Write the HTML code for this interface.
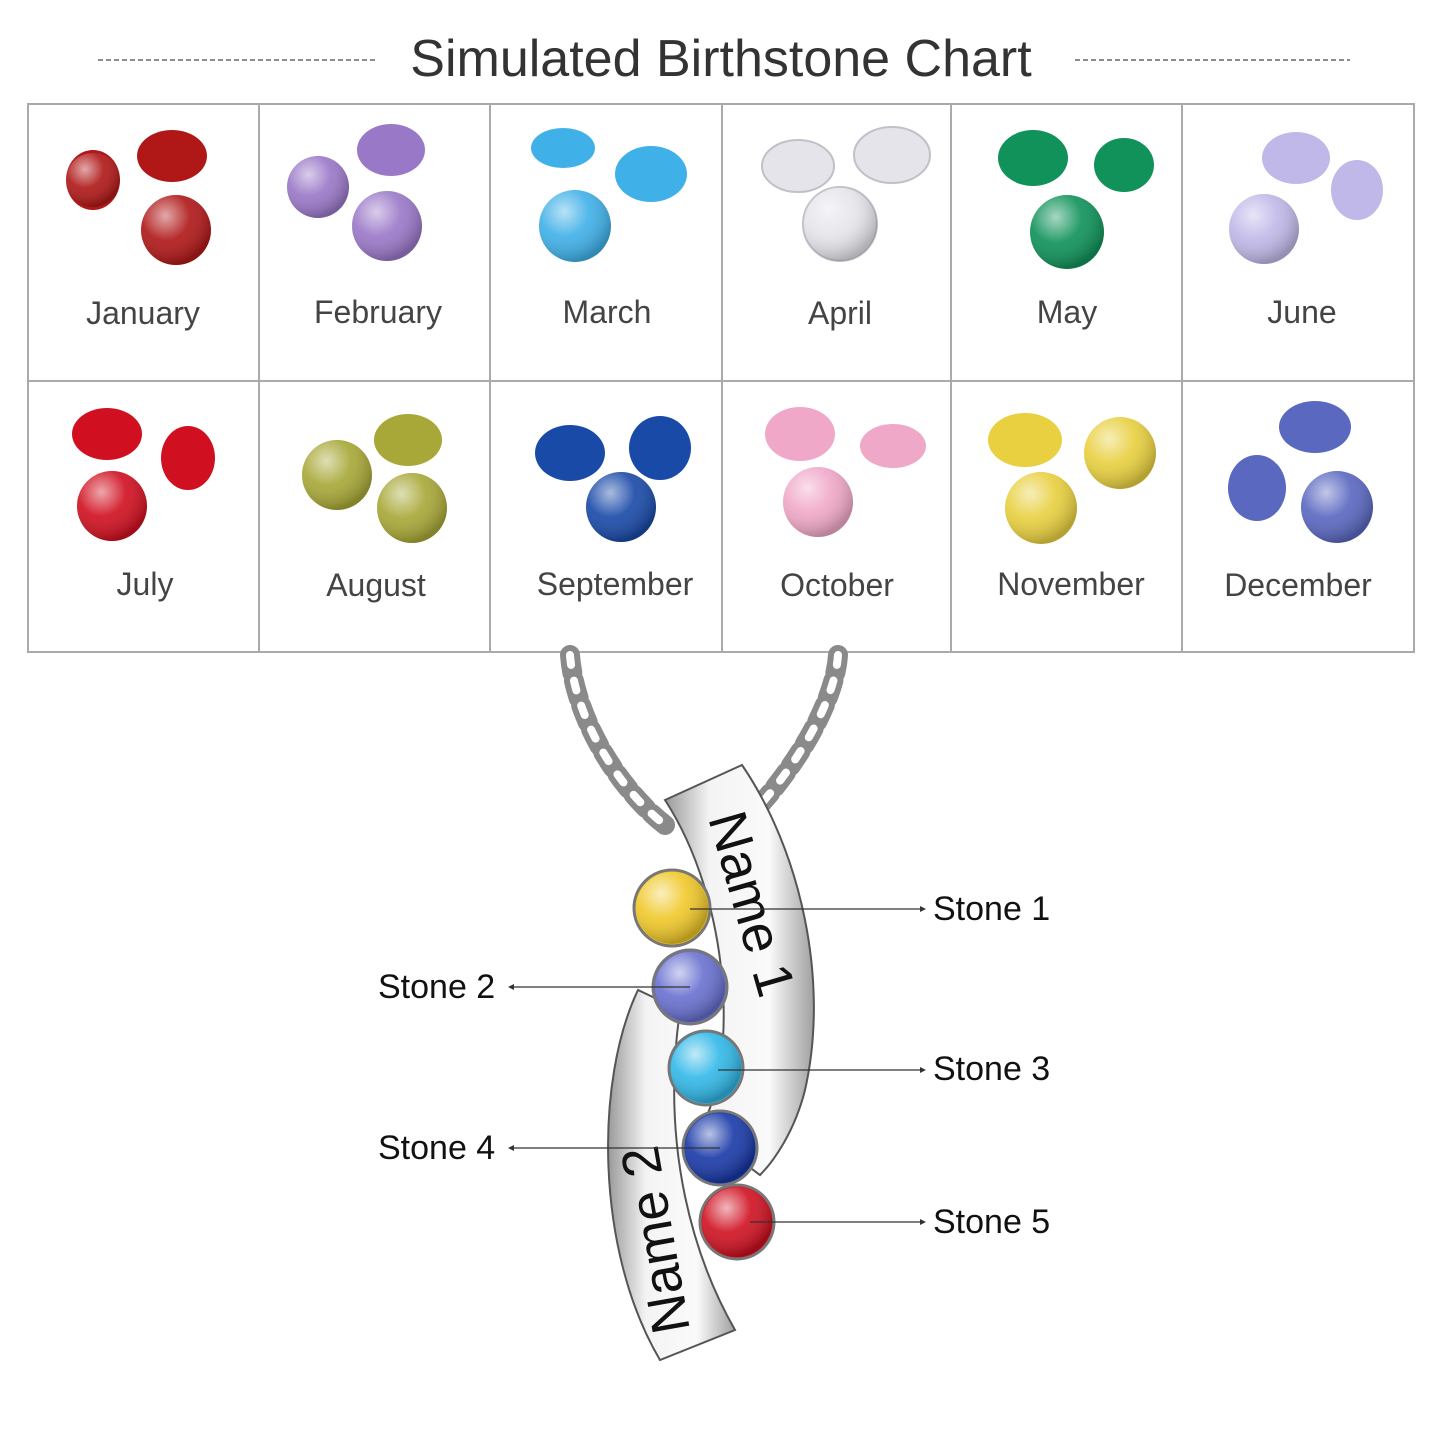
<!DOCTYPE html>
<html><head><meta charset="utf-8"><style>
html,body{margin:0;padding:0;background:#fff;}
svg{display:block;}
</style></head><body>
<svg width="1445" height="1445" viewBox="0 0 1445 1445" xmlns="http://www.w3.org/2000/svg" font-family="Liberation Sans, sans-serif">
<defs>
<radialGradient id="shine" cx="35%" cy="30%" r="70%"><stop offset="0" stop-color="#fff" stop-opacity="0.7"/><stop offset="0.5" stop-color="#fff" stop-opacity="0.1"/><stop offset="1" stop-color="#000" stop-opacity="0.25"/></radialGradient>
<linearGradient id="metal" x1="0" x2="1"><stop offset="0" stop-color="#9a9a9a"/><stop offset="0.3" stop-color="#f4f4f4"/><stop offset="0.7" stop-color="#fafafa"/><stop offset="1" stop-color="#a0a0a0"/></linearGradient>
</defs>
<line x1="98" y1="60" x2="375" y2="60" stroke="#666" stroke-width="1.5" stroke-dasharray="5,3"/>
<line x1="1075" y1="60" x2="1350" y2="60" stroke="#666" stroke-width="1.5" stroke-dasharray="5,3"/>
<text x="721" y="76" font-size="52" fill="#333" text-anchor="middle">Simulated Birthstone Chart</text>
<g stroke="#aaa" stroke-width="2" fill="none">
<rect x="28" y="104" width="1386" height="548"/>
<line x1="28" y1="381" x2="1414" y2="381"/>
<line x1="259" y1="104" x2="259" y2="652"/><line x1="490" y1="104" x2="490" y2="652"/>
<line x1="722" y1="104" x2="722" y2="652"/><line x1="951" y1="104" x2="951" y2="652"/>
<line x1="1182" y1="104" x2="1182" y2="652"/>
</g>
<g font-size="32" fill="#444" text-anchor="middle">
<text x="143" y="324">January</text><text x="378" y="323">February</text><text x="607" y="323">March</text>
<text x="840" y="324">April</text><text x="1067" y="323">May</text><text x="1302" y="323">June</text>
<text x="145" y="595">July</text><text x="376" y="596">August</text><text x="615" y="595">September</text>
<text x="837" y="596">October</text><text x="1071" y="595">November</text><text x="1298" y="596">December</text>
</g>
<g id="gems">
<g fill="#b01818"><ellipse cx="93" cy="180" rx="27" ry="30"/><ellipse cx="172" cy="156" rx="35" ry="26"/><circle cx="176" cy="230" r="35"/></g>
<g fill="#9a78c8"><circle cx="318" cy="187" r="31"/><ellipse cx="391" cy="150" rx="34" ry="26"/><circle cx="387" cy="226" r="35"/></g>
<g fill="#40b0e8"><ellipse cx="563" cy="148" rx="32" ry="20"/><ellipse cx="651" cy="174" rx="36" ry="28"/><circle cx="575" cy="226" r="36"/></g>
<g fill="#e4e4ea" stroke="#c0c0c8" stroke-width="2"><ellipse cx="798" cy="166" rx="36" ry="26"/><ellipse cx="892" cy="155" rx="38" ry="28"/><circle cx="840" cy="224" r="37"/></g>
<g fill="#10925a"><ellipse cx="1033" cy="158" rx="35" ry="28"/><ellipse cx="1124" cy="165" rx="30" ry="27"/><circle cx="1067" cy="232" r="37"/></g>
<g fill="#c0b8e8"><ellipse cx="1296" cy="158" rx="34" ry="26"/><circle cx="1264" cy="229" r="35"/><ellipse cx="1357" cy="190" rx="26" ry="30"/></g>
<g fill="#d01020"><ellipse cx="107" cy="434" rx="35" ry="26"/><ellipse cx="188" cy="458" rx="27" ry="32"/><circle cx="112" cy="506" r="35"/></g>
<g fill="#a8a838"><circle cx="337" cy="475" r="35"/><ellipse cx="408" cy="440" rx="34" ry="26"/><circle cx="412" cy="508" r="35"/></g>
<g fill="#1a4aa8"><ellipse cx="570" cy="453" rx="35" ry="28"/><ellipse cx="660" cy="448" rx="31" ry="32"/><circle cx="621" cy="507" r="35"/></g>
<g fill="#f0a8c8"><ellipse cx="800" cy="434" rx="35" ry="27"/><ellipse cx="893" cy="446" rx="33" ry="22"/><circle cx="818" cy="502" r="35"/></g>
<g fill="#e8d040"><ellipse cx="1025" cy="440" rx="37" ry="27"/><circle cx="1120" cy="453" r="36"/><circle cx="1041" cy="508" r="36"/></g>
<g fill="#5a68c0"><ellipse cx="1315" cy="427" rx="36" ry="26"/><ellipse cx="1257" cy="488" rx="29" ry="33"/><circle cx="1337" cy="507" r="36"/></g>
</g>
<g fill="url(#shine)" opacity="0.9">
<circle cx="93" cy="180" r="27"/><circle cx="176" cy="230" r="35"/><circle cx="318" cy="187" r="31"/><circle cx="387" cy="226" r="35"/>
<circle cx="575" cy="226" r="36"/><circle cx="840" cy="224" r="37"/><circle cx="1067" cy="232" r="37"/><circle cx="1264" cy="229" r="35"/>
<circle cx="112" cy="506" r="35"/><circle cx="337" cy="475" r="35"/><circle cx="412" cy="508" r="35"/><circle cx="621" cy="507" r="35"/>
<circle cx="818" cy="502" r="35"/><circle cx="1120" cy="453" r="36"/><circle cx="1041" cy="508" r="36"/><circle cx="1337" cy="507" r="36"/>
</g>
<!-- chain -->
<g fill="none" stroke-linecap="round">
<path d="M570 655 C575 720 620 790 665 825" stroke="#8a8a8a" stroke-width="20" stroke-dasharray="18,8"/>
<path d="M570 655 C575 720 620 790 665 825" stroke="#fff" stroke-width="8" stroke-dasharray="10,16"/>
<path d="M838 655 C835 700 800 760 760 805" stroke="#8a8a8a" stroke-width="20" stroke-dasharray="18,8"/>
<path d="M838 655 C835 700 800 760 760 805" stroke="#fff" stroke-width="8" stroke-dasharray="10,16"/>
</g>
<!-- ribbon 2 -->
<path d="M638 990 C595 1080 595 1250 660 1360 L735 1330 C695 1260 660 1150 680 1010 Z" fill="url(#metal)" stroke="#555" stroke-width="2"/>
<!-- ribbon 1 -->
<path d="M665 800 L742 765 C800 850 830 980 805 1090 C795 1130 775 1160 760 1175 L700 1130 C740 1060 730 900 665 800 Z" fill="url(#metal)" stroke="#555" stroke-width="2"/>
<text transform="translate(708,818) rotate(74)" font-size="54" fill="#111">Name 1</text>
<text transform="translate(690,1330) rotate(-100)" font-size="54" fill="#111">Name 2</text>
<g stroke="#777" stroke-width="3">
<circle cx="672" cy="908" r="38" fill="#f0c828"/>
<circle cx="690" cy="987" r="37" fill="#6870d0"/>
<circle cx="706" cy="1068" r="37" fill="#30b8e8"/>
<circle cx="720" cy="1148" r="37" fill="#1838a8"/>
<circle cx="737" cy="1222" r="37" fill="#d01020"/>
</g>
<g fill="url(#shine)"><circle cx="672" cy="908" r="36"/><circle cx="690" cy="987" r="35"/><circle cx="706" cy="1068" r="35"/><circle cx="720" cy="1148" r="35"/><circle cx="737" cy="1222" r="35"/></g>
<g stroke="#333" stroke-width="1.2" fill="none">
<line x1="690" y1="909" x2="922" y2="909"/><line x1="514" y1="987" x2="690" y2="987"/>
<line x1="718" y1="1070" x2="922" y2="1070"/><line x1="514" y1="1148" x2="720" y2="1148"/>
<line x1="750" y1="1222" x2="922" y2="1222"/>
</g>
<g fill="#333">
<path d="M926 909 l-6 -3 v6z"/><path d="M926 1070 l-6 -3 v6z"/><path d="M926 1222 l-6 -3 v6z"/>
<path d="M508 987 l6 -3 v6z"/><path d="M508 1148 l6 -3 v6z"/>
</g>
<g font-size="34" fill="#111">
<text x="933" y="920">Stone 1</text><text x="378" y="998">Stone 2</text>
<text x="933" y="1080">Stone 3</text><text x="378" y="1159">Stone 4</text>
<text x="933" y="1233">Stone 5</text>
</g>
</svg>
</body></html>
